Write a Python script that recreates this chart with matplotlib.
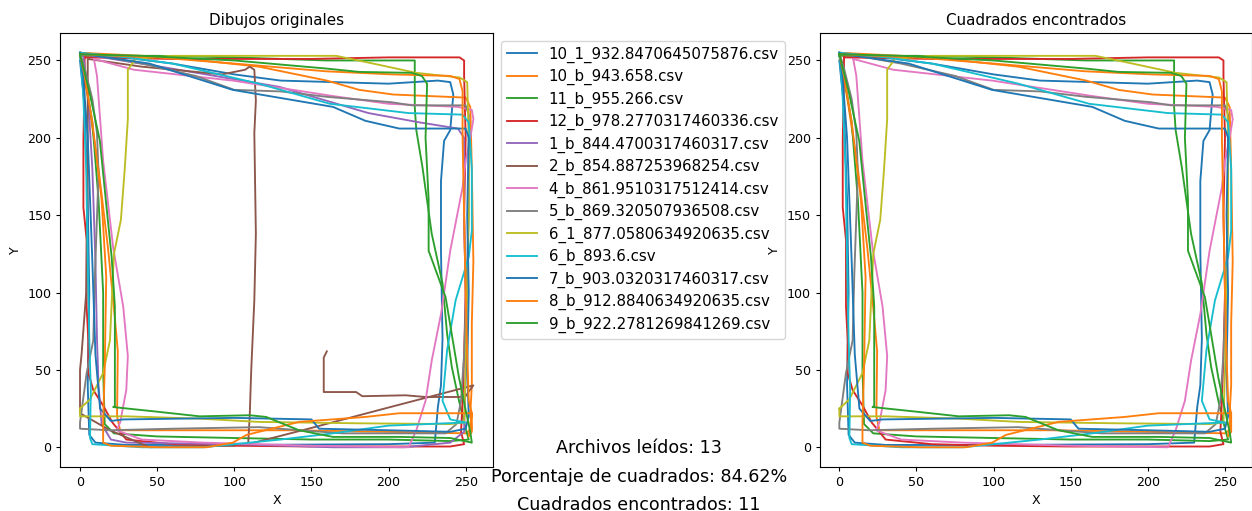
import matplotlib.pyplot as plt

# file names, in the order they were read
names = ['10_1_932.8470645075876.csv', '10_b_943.658.csv', '11_b_955.266.csv',
         '12_b_978.2770317460336.csv', '1_b_844.4700317460317.csv',
         '2_b_854.887253968254.csv', '4_b_861.9510317512414.csv',
         '5_b_869.320507936508.csv', '6_1_877.0580634920635.csv', '6_b_893.6.csv',
         '7_b_903.0320317460317.csv', '8_b_912.8840634920635.csv',
         '9_b_922.2781269841269.csv']

# drawings that were not accepted as squares
rejected = ['1_b_844.4700317460317.csv', '2_b_854.887253968254.csv']

x_10_1 = [0, 20, 60, 100, 130, 165, 200, 232, 240, 242, 240, 236, 234, 234, 235, 234, 232,
          230, 200, 100, 30, 10, 6, 5, 6, 5, 3, 0]
y_10_1 = [255, 253, 248, 241, 237, 236, 235, 237, 236, 228, 205, 198, 172, 127, 70, 40, 26,
          3, 2, 1.5, 1.5, 3, 8, 40, 100, 160, 220, 250]

x_10_b = [0, 60, 116, 160, 181, 203, 250, 253, 254, 255, 254, 254, 253, 254, 250, 200, 137,
          60, 26, 24, 24.5, 22, 18, 12, 6, 2, 0]
y_10_b = [255, 252, 246, 237, 231, 228, 226, 220, 180, 120, 80, 40, 22, 12, 9, 10, 11,
          11, 11, 20, 62, 90, 130, 180, 220, 245, 255]

x_11_b = [0, 50, 100, 160, 217, 217, 218, 222, 228, 235, 238, 241, 245.7, 250, 252, 240, 200,
          150, 100, 50, 22, 16, 15, 15, 12, 8, 3, 0]
y_11_b = [253, 253, 252, 250, 250, 220, 205, 181, 138, 106, 73, 52, 30, 12, 5, 4, 5,
          5, 6, 7, 9, 15, 50, 100, 160, 210, 240, 253]

x_12_b = [3, 60, 150, 200, 246, 249, 249, 250, 249, 250, 249, 248, 247, 249, 240, 150, 100,
          60, 30, 21, 15, 8.6, 5.4, 5.4, 4.3, 4.3, 3.2, 2.2, 2.2, 3, 3]
y_12_b = [252, 251, 251, 252, 252, 250, 240, 200, 150, 100, 60, 30, 10, 2, 0.5, 0.5, 1,
          2, 5, 16, 27, 37, 48, 69, 91, 134, 145, 155, 198, 240, 252]

x_1_b = [2, 52, 129, 187, 220, 245, 249, 249, 250, 250, 249, 240, 210, 164, 100, 30, 20,
         14, 12, 11, 10, 8, 5, 2]
y_1_b = [254, 246, 233, 216, 210, 206, 200, 150, 100, 50, 10, 3, 0, 0, 2, 3, 5,
         15, 40, 70, 120, 180, 230, 254]

x_2_b = [100, 70, 45, 19.4, 0, 0, 1, 4, 5, 5, 40, 92, 107, 110, 113, 114, 113, 114, 113,
         111, 110, 109, 150, 200, 255, 252, 250, 245.6, 224, 211, 183, 179, 158, 158, 160]
y_2_b = [1, 0.5, 0, 11, 22, 50, 60, 100, 180, 251, 246, 241, 244, 246, 244, 224, 203, 138,
         95, 50, 20, 2, 12.5, 25.7, 40, 36, 33, 32.5, 32.5, 33.6, 33, 35.7, 35.7, 58, 62]

x_4_b = [9, 35, 99, 164, 200, 245, 254, 255, 253, 250, 248, 240, 234, 228, 224, 218, 213,
         150, 80, 40, 23.7, 26, 30, 31, 28, 21.5, 15, 11, 9]
y_4_b = [251, 244, 237, 227, 222, 220, 218, 212, 200, 185, 168, 127, 86, 56, 30, 11, 0,
         1, 3, 5, 11, 16, 37, 59, 91, 129, 185, 240, 251]

x_5_b = [0, 40, 75, 100, 130, 160, 202, 215, 250, 252, 252, 250, 249, 247, 244, 237, 170,
         116, 60, 19, 0, 0, 4.3, 8.6, 9.7, 12, 11, 8, 3, 0]
y_5_b = [255, 248, 240, 231, 230, 226.5, 223, 221, 221, 215, 150, 90, 60, 30, 15, 9, 9,
         13, 12, 11, 12, 16, 48, 69, 112, 177, 203, 225, 245, 255]

x_6_1 = [0, 6.5, 15, 19.4, 22, 26.5, 29, 31, 31, 36, 60, 120, 166, 190, 218, 246, 251, 252,
         252, 251, 250, 249, 240, 180, 116, 78, 30, 0, 0]
y_6_1 = [25, 31, 48, 69, 125, 147, 180, 212, 244, 251, 253, 253, 253, 248, 242, 239, 236, 200,
         150, 100, 50, 16, 15, 15.5, 16.4, 18.5, 20, 20, 25]

x_6_b = [0, 30, 60, 116, 162, 213, 248, 252, 254, 254, 252, 243.5, 238, 235, 240, 250, 200,
         164, 130, 80, 40, 8, 6.5, 7, 6, 5, 4, 2, 0]
y_6_b = [255, 252, 248, 235, 222, 216, 215, 210, 180, 140, 123, 95, 63, 30, 18, 16, 14,
         9, 5, 0, 0, 2, 6, 37, 70, 120, 180, 230, 255]

x_7_b = [0, 45, 99, 164, 185, 207, 250, 252, 251, 252, 251, 252, 250, 240, 200, 155, 150,
         100, 28, 20, 13, 10, 8, 5, 2, 0]
y_7_b = [254.5, 248, 231, 220, 211, 206, 206, 200, 150, 100, 50, 20, 12, 10, 11, 12, 18,
         19, 18, 17, 25, 60, 120, 200, 240, 254.5]

x_8_b = [0, 50, 100, 159.5, 202.5, 240, 246, 248, 248, 249, 250, 251, 252, 254, 254, 252, 254,
         207, 185, 142, 108, 99, 82, 52, 20, 15, 15, 16, 17, 14, 8, 3, 0]
y_8_b = [254, 252, 248, 243, 241, 240, 238, 230, 200, 150, 100, 60, 30, 22, 10, 7, 22,
         22, 19.6, 16.4, 8, 3, 0, 0, 1, 3, 17, 50, 110, 160, 210, 240, 254]

x_9_b = [0, 40, 100, 159.5, 181, 215, 221.6, 225, 224, 226, 226, 237, 245.6, 250, 253, 254,
         240, 207, 164, 142, 120.7, 110, 77.6, 50, 21.5, 22.6, 22.6, 20.5, 17.2, 12.9, 6, 0]
y_9_b = [254, 253, 250, 244.8, 242.6, 242, 240, 235, 200, 160, 127, 97, 45.5, 24, 10, 3,
         6, 6.7, 6.7, 11, 19.6, 20.7, 20, 23, 26, 26.7, 91, 123, 155, 198, 230, 254]

xs = [x_10_1, x_10_b, x_11_b, x_12_b, x_1_b, x_2_b, x_4_b, x_5_b, x_6_1, x_6_b,
      x_7_b, x_8_b, x_9_b]
ys = [y_10_1, y_10_b, y_11_b, y_12_b, y_1_b, y_2_b, y_4_b, y_5_b, y_6_1, y_6_b,
      y_7_b, y_8_b, y_9_b]


def setup(ax, title):
    ax.set_title(title, fontsize=10.9)
    ax.set_xlabel('X', fontsize=9.1)
    ax.set_ylabel('Y', fontsize=9.1)
    ax.set_xlim(-12.75, 267.75)
    ax.set_ylim(-12.75, 267.75)
    ax.set_xticks(range(0, 251, 50))
    ax.set_yticks(range(0, 251, 50))
    ax.tick_params(labelsize=9.1, length=3.2, pad=3.2)


def main():
    fig = plt.figure(figsize=(12.52, 5.11), dpi=100)
    ax1 = fig.add_axes([0.0482, 0.0861, 0.3456, 0.8493])
    ax2 = fig.add_axes([0.6547, 0.0861, 0.3456, 0.8493])

    found = 0
    for i, name in enumerate(names):
        color = 'C%d' % (i % 10)
        ax1.plot(xs[i], ys[i], color=color, lw=1.35, label=name)
        if name not in rejected:
            ax2.plot(xs[i], ys[i], color=color, lw=1.35)
            found += 1

    setup(ax1, 'Dibujos originales')
    setup(ax2, 'Cuadrados encontrados')
    ax1.legend(loc='upper left', bbox_to_anchor=(1, 1), fontsize=10.8, labelspacing=0.42)

    pct = 100 * found / len(names)
    fig.text(0.5101, 0.1129, 'Archivos leídos: %d' % len(names), ha='center', fontsize=12.6)
    fig.text(0.5101, 0.0573, 'Porcentaje de cuadrados: %.2f%%' % pct, ha='center', fontsize=12.6)
    fig.text(0.5101, 0.0029, 'Cuadrados encontrados: %d' % found, ha='center', fontsize=12.6)

    fig.savefig('out.png', dpi=100)


if __name__ == '__main__':
    main()
